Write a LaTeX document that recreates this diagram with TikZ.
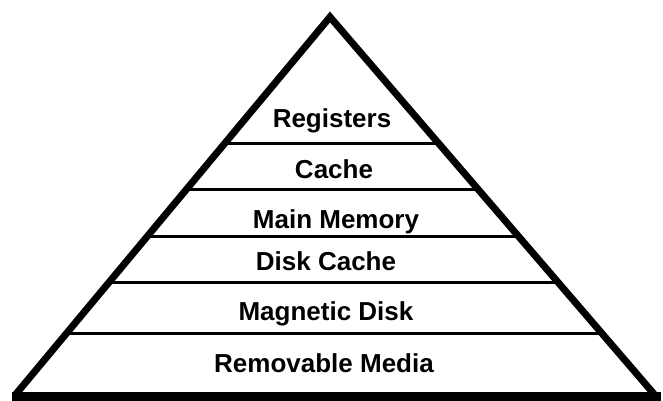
\documentclass[tikz,border=0pt]{standalone}
\usepackage{fontspec}
\setmainfont{Liberation Sans}
\usetikzlibrary{calc}
\begin{document}
\begin{tikzpicture}[x=1pt,y=-1pt,
  lvl/.style={font=\bfseries\fontsize{26}{26}\selectfont, anchor=base, inner sep=0pt},
  side/.style={line width=7pt, line join=miter, miter limit=20},
  divider/.style={line width=3pt},
  baseline/.style={line width=9pt}]
\useasboundingbox (0,0) rectangle (663,401);
\coordinate (apex) at (330,17);
\coordinate (bl) at (16,394);
\coordinate (br) at (654,394);
\coordinate (bl2) at (12,396);
\coordinate (br2) at (661,396);
\draw[side] (bl) -- (apex) -- (br);
\draw[baseline] (bl2) -- (br2);
\foreach \y in {144,190,237,282,333} {
  \pgfmathsetmacro\t{(\y-17)/(394-17)}
  \draw[divider] ($(apex)!\t!(bl)$) -- ($(apex)!\t!(br)$);
}
\node[lvl] (reg) at (332,127) {Registers};
\node[lvl] (cache) at (334,178) {Cache};
\node[lvl] (mem) at (336,228) {Main Memory};
\node[lvl] (dcache) at (326,270) {Disk Cache};
\node[lvl] (mdisk) at (326,320) {Magnetic Disk};
\node[lvl] (rmedia) at (324,372) {Removable Media};
\end{tikzpicture}
\end{document}
